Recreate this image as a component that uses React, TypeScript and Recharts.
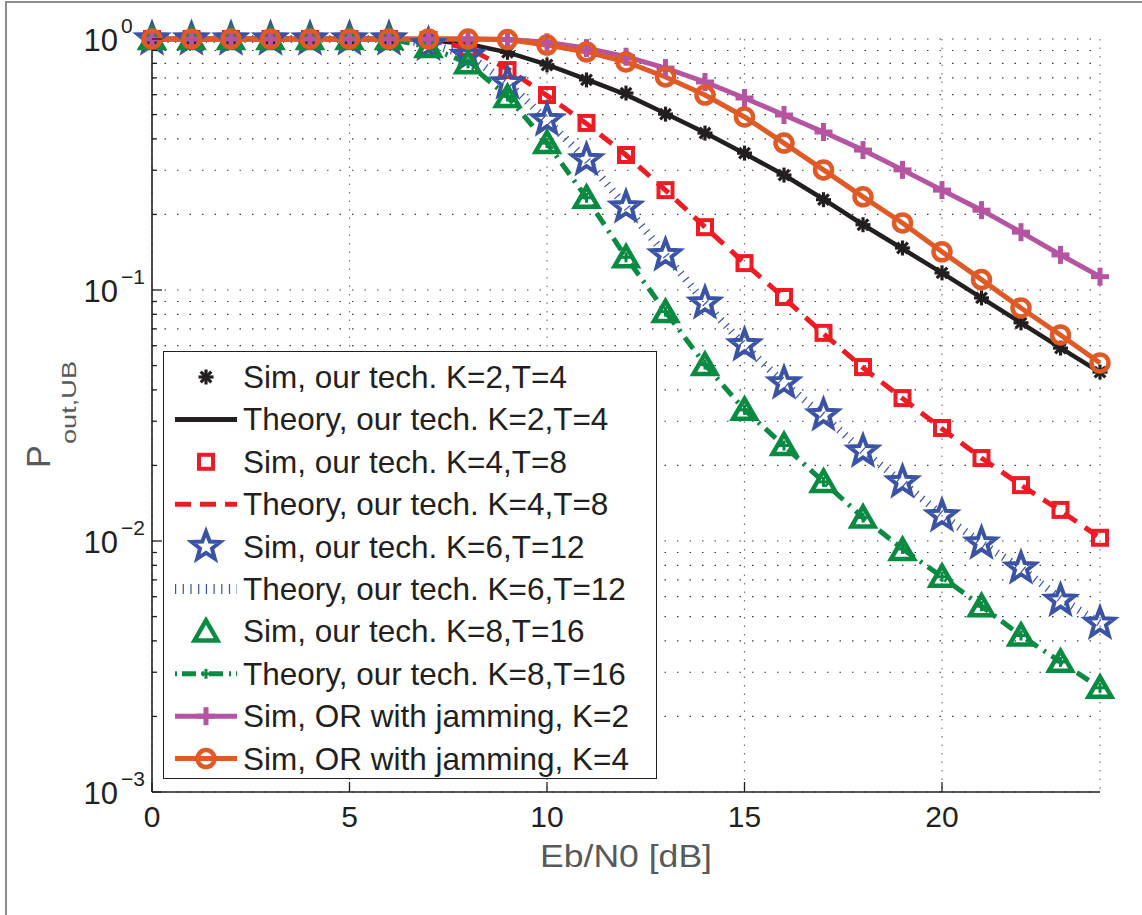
import { LineChart, Line, XAxis, YAxis, CartesianGrid, Legend } from 'recharts'

// Eb/N0 in dB, one point per integer
const ebn0 = [0, 1, 2, 3, 4, 5, 6, 7, 8, 9, 10, 11, 12, 13, 14, 15, 16, 17, 18, 19, 20, 21, 22, 23, 24]

const simK2 = [1, 1, 1, 1, 1, 1, 1, 0.99, 0.955, 0.885, 0.788, 0.687, 0.609, 0.502, 0.422, 0.351, 0.287, 0.229, 0.182, 0.147, 0.117, 0.093, 0.074, 0.0587, 0.0471]
const theoryK2 = [1, 1, 1, 1, 1, 1, 1, 0.99, 0.955, 0.885, 0.79, 0.69, 0.6, 0.505, 0.423, 0.35, 0.287, 0.23, 0.182, 0.146, 0.117, 0.093, 0.074, 0.0588, 0.047]
const simK4 = [1, 1, 1, 1, 1, 1, 1, 0.99, 0.92, 0.752, 0.598, 0.463, 0.345, 0.25, 0.178, 0.128, 0.0938, 0.0675, 0.0493, 0.0371, 0.0282, 0.0214, 0.0167, 0.0133, 0.0103]
const theoryK4 = [1, 1, 1, 1, 1, 1, 1, 0.99, 0.92, 0.76, 0.595, 0.46, 0.345, 0.25, 0.178, 0.128, 0.093, 0.067, 0.049, 0.037, 0.028, 0.0214, 0.0167, 0.0132, 0.0103]
const simK6 = [1, 1, 1, 1, 1, 1, 1, 0.95, 0.86, 0.668, 0.476, 0.33, 0.214, 0.138, 0.0887, 0.0604, 0.0426, 0.0318, 0.0228, 0.0172, 0.0126, 0.0098, 0.0078, 0.0058, 0.0047]
const theoryK6 = [1, 1, 1, 1, 1, 1, 1, 0.96, 0.86, 0.67, 0.475, 0.33, 0.215, 0.138, 0.089, 0.06, 0.0426, 0.0315, 0.0228, 0.0171, 0.0127, 0.0098, 0.0078, 0.0059, 0.0047]
const simK8 = [1, 1, 1, 1, 1, 1, 1, 0.93, 0.8, 0.587, 0.385, 0.233, 0.135, 0.0817, 0.0503, 0.0333, 0.0241, 0.0172, 0.0124, 0.0092, 0.0072, 0.0055, 0.0042, 0.0033, 0.0026]
const theoryK8 = [1, 1, 1, 1, 1, 1, 1, 0.93, 0.8, 0.59, 0.385, 0.233, 0.135, 0.082, 0.0505, 0.0333, 0.024, 0.0172, 0.0124, 0.0093, 0.0072, 0.0055, 0.0042, 0.0033, 0.0026]
const orJamK2 = [1, 1, 1, 1, 1, 1, 1, 1, 1, 0.995, 0.97, 0.92, 0.85, 0.766, 0.674, 0.582, 0.498, 0.426, 0.361, 0.301, 0.25, 0.208, 0.17, 0.138, 0.113]
const orJamK4 = [1, 1, 1, 1, 1, 1, 1, 1, 1, 0.995, 0.946, 0.888, 0.81, 0.706, 0.598, 0.489, 0.385, 0.301, 0.235, 0.185, 0.142, 0.11, 0.0848, 0.0662, 0.0512]

const xTicks = [0, 5, 10, 15, 20]
const yTicks = [
  0.001, 0.002, 0.003, 0.004, 0.005, 0.006, 0.007, 0.008, 0.009,
  0.01, 0.02, 0.03, 0.04, 0.05, 0.06, 0.07, 0.08, 0.09,
  0.1, 0.2, 0.3, 0.4, 0.5, 0.6, 0.7, 0.8, 0.9, 1,
]
const yMajorTicks = [0.001, 0.01, 0.1, 1]
const yExponents = ['−3', '−2', '−1', '0']

const legendNames = [
  'Sim, our tech. K=2,T=4',
  'Theory, our tech. K=2,T=4',
  'Sim, our tech. K=4,T=8',
  'Theory, our tech. K=4,T=8',
  'Sim, our tech. K=6,T=12',
  'Theory, our tech. K=6,T=12',
  'Sim, our tech. K=8,T=16',
  'Theory, our tech. K=8,T=16',
  'Sim, OR with jamming, K=2',
  'Sim, OR with jamming, K=4',
]

const rows = ebn0.map((x, i) => ({
  x,
  simK2: simK2[i],
  theoryK2: theoryK2[i],
  simK4: simK4[i],
  theoryK4: theoryK4[i],
  simK6: simK6[i],
  theoryK6: theoryK6[i],
  simK8: simK8[i],
  theoryK8: theoryK8[i],
  orJamK2: orJamK2[i],
  orJamK4: orJamK4[i],
}))

const FONT = '"Liberation Sans", Arial, Helvetica, sans-serif'
const INK = '#231f20'
const GRAYTEXT = '#58595b'
const BLACK = '#231f20'
const RED = '#ed1c24'
const BLUE = '#3a53a4'
const GREEN = '#0b8a42'
const PURPLE = '#b554a1'
const ORANGE = '#df5a26'

type MarkerKind = 'asterisk' | 'square' | 'star' | 'triangle' | 'plus' | 'circle' | 'smallplus'

function starPoints(cx: number, cy: number, R: number) {
  const r = R * 0.42
  const pts: string[] = []
  for (let i = 0; i < 10; i++) {
    const a = -Math.PI / 2 + (i * Math.PI) / 5
    const rad = i % 2 === 0 ? R : r
    pts.push(`${cx + rad * Math.cos(a)},${cy + rad * Math.sin(a)}`)
  }
  return pts.join(' ')
}

function Marker({ kind, cx, cy, color }: { kind: MarkerKind; cx: number; cy: number; color: string }) {
  switch (kind) {
    case 'asterisk': {
      const d = 7.5
      const k = d * 0.707
      return (
        <g stroke={color} strokeWidth={3.2}>
          <line x1={cx - d} y1={cy} x2={cx + d} y2={cy} />
          <line x1={cx} y1={cy - d} x2={cx} y2={cy + d} />
          <line x1={cx - k} y1={cy - k} x2={cx + k} y2={cy + k} />
          <line x1={cx - k} y1={cy + k} x2={cx + k} y2={cy - k} />
        </g>
      )
    }
    case 'square':
      return <rect x={cx - 7} y={cy - 7} width={14} height={14} fill="none" stroke={color} strokeWidth={4} />
    case 'star':
      return <polygon points={starPoints(cx, cy, 15)} fill="none" stroke={color} strokeWidth={4} strokeLinejoin="miter" />
    case 'triangle':
      return (
        <polygon
          points={`${cx},${cy - 11} ${cx - 11.5},${cy + 9} ${cx + 11.5},${cy + 9}`}
          fill="none"
          stroke={color}
          strokeWidth={4.5}
        />
      )
    case 'plus':
      return (
        <g stroke={color} strokeWidth={5}>
          <line x1={cx - 9} y1={cy} x2={cx + 9} y2={cy} />
          <line x1={cx} y1={cy - 9} x2={cx} y2={cy + 9} />
        </g>
      )
    case 'smallplus':
      return (
        <g stroke={color} strokeWidth={3}>
          <line x1={cx - 5} y1={cy} x2={cx + 5} y2={cy} />
          <line x1={cx} y1={cy - 5} x2={cx} y2={cy + 5} />
        </g>
      )
    case 'circle':
      return <circle cx={cx} cy={cy} r={8.5} fill="none" stroke={color} strokeWidth={4.5} />
  }
  return null
}

const dotOf = (kind: MarkerKind, color: string) => (p: any) => {
  if (p.cx == null || p.cy == null) return <g key={p.index} />
  return (
    <g key={p.index}>
      <Marker kind={kind} cx={p.cx} cy={p.cy} color={color} />
    </g>
  )
}

const isMajor = (v: number) => yMajorTicks.some((m) => Math.abs(m - v) < 1e-12)

const LeftTick = (props: any) => {
  const { x, y, payload } = props
  const v = payload.value
  const idx = yMajorTicks.findIndex((m) => Math.abs(m - v) < 1e-12)
  const major = idx >= 0
  return (
    <g>
      <line x1={x} x2={x + (major ? 10 : 5)} y1={y} y2={y} stroke={INK} strokeWidth={1.3} />
      {major && (
        <g fontFamily={FONT} fill={INK}>
          <text x={x - 34} y={y + 12} textAnchor="end" fontSize={31}>
            10
          </text>
          <text x={x - 31} y={y - 6} textAnchor="start" fontSize={21}>
            {yExponents[idx]}
          </text>
        </g>
      )}
    </g>
  )
}

const RightTick = (props: any) => {
  const { x, y, payload } = props
  const major = isMajor(payload.value)
  return <line x1={x} x2={x - (major ? 10 : 5)} y1={y} y2={y} stroke={INK} strokeWidth={1.3} />
}

const BottomTick = (props: any) => {
  const { x, y, payload } = props
  return (
    <g>
      <line x1={x} x2={x} y1={y} y2={y - 10} stroke={INK} strokeWidth={1.3} />
      <text x={x} y={y + 35} textAnchor="middle" fontSize={30} fontFamily={FONT} fill={INK}>
        {payload.value}
      </text>
    </g>
  )
}

const TopTick = (props: any) => {
  const { x, y } = props
  return <line x1={x} x2={x} y1={y} y2={y + 10} stroke={INK} strokeWidth={1.3} />
}

const XLabel = () => (
  <text x={626} y={867} textAnchor="middle" fontSize={31} fontFamily={FONT} fill={GRAYTEXT} textLength={172} lengthAdjust="spacingAndGlyphs">
    Eb/N0 [dB]
  </text>
)

const YLabel = () => (
  <g fontFamily={FONT} fill={GRAYTEXT} transform="translate(50,468) rotate(-90)">
    <text x={0} y={0} fontSize={34}>P</text>
    <text x={24} y={26} fontSize={20} textLength={83} lengthAdjust="spacingAndGlyphs">out,UB</text>
  </g>
)

const legendRows: { marker?: MarkerKind; color: string; width?: number; dash?: string }[] = [
  { marker: 'asterisk', color: BLACK },
  { color: BLACK, width: 5 },
  { marker: 'square', color: RED },
  { color: RED, width: 5, dash: '16 9' },
  { marker: 'star', color: BLUE },
  { color: BLUE, width: 10, dash: '1.2 6.5' },
  { marker: 'triangle', color: GREEN },
  { marker: 'smallplus', color: GREEN, width: 5, dash: '2 5 14 6' },
  { marker: 'plus', color: PURPLE, width: 5 },
  { marker: 'circle', color: ORANGE, width: 5 },
]

function LegendBox() {
  return (
    <div style={{ width: 494, height: 428, background: '#fff', border: `1.5px solid ${INK}`, boxSizing: 'border-box' }}>
      <svg width={491} height={425}>
        {legendRows.map((r, i) => {
          const base = 36 + i * 42.4
          const cy = base - 11
          return (
            <g key={i}>
              {r.width && (
                <line x1={11} x2={73} y1={cy} y2={cy} stroke={r.color} strokeWidth={r.width} strokeDasharray={r.dash} />
              )}
              {r.marker && <Marker kind={r.marker} cx={42} cy={cy} color={r.color} />}
              <text x={79} y={base} fontSize={31.5} fontFamily={FONT} fill={INK}>
                {legendNames[i]}
              </text>
            </g>
          )
        })}
      </svg>
    </div>
  )
}

export default function App() {
  return (
    <div style={{ position: 'absolute', left: 0, top: 0, width: 1142, height: 915, background: '#fff' }}>
      <div
        style={{
          position: 'absolute',
          left: 5,
          top: 1,
          width: 1137,
          height: 914,
          borderLeft: '2px solid #8c8c8c',
          borderTop: '2px solid #8c8c8c',
          boxSizing: 'border-box',
        }}
      />
      <LineChart width={1142} height={915} data={rows} margin={{ top: 39, right: 42, left: 0, bottom: 0 }}>
        <CartesianGrid horizontal vertical={false} stroke="#3a3a3a" strokeDasharray="1.5 11" strokeWidth={1.2} />
        <CartesianGrid horizontal={false} vertical stroke="#777" strokeDasharray="1.5 7" strokeWidth={1.2} />
        <XAxis
          dataKey="x"
          type="number"
          domain={[0, 24]}
          ticks={xTicks}
          interval={0}
          height={123}
          tickSize={0}
          tickMargin={0}
          tick={<BottomTick />}
          axisLine={{ stroke: INK, strokeWidth: 1.6 }}
          label={{ content: XLabel }}
        />
        <XAxis
          xAxisId="top"
          orientation="top"
          type="number"
          domain={[0, 24]}
          ticks={xTicks}
          interval={0}
          height={0}
          tickSize={0}
          tickMargin={0}
          tick={<TopTick />}
          axisLine={{ stroke: INK, strokeWidth: 1.6 }}
        />
        <YAxis
          scale="log"
          type="number"
          domain={[0.001, 1]}
          ticks={yTicks}
          interval={0}
          width={152}
          tickSize={0}
          tickMargin={0}
          tick={<LeftTick />}
          axisLine={{ stroke: INK, strokeWidth: 1.6 }}
          label={{ content: YLabel }}
        />
        <YAxis
          yAxisId="right"
          orientation="right"
          scale="log"
          type="number"
          domain={[0.001, 1]}
          ticks={yTicks}
          interval={0}
          width={0}
          tickSize={0}
          tickMargin={0}
          tick={<RightTick />}
          axisLine={{ stroke: INK, strokeWidth: 1.6 }}
        />
        <Legend
          layout="vertical"
          align="center"
          verticalAlign="middle"
          content={() => <LegendBox />}
          wrapperStyle={{ position: 'absolute', left: 163, top: 351, width: 494, height: 428 }}
        />
        <Line dataKey="simK2" stroke="none" isAnimationActive={false} dot={dotOf('asterisk', BLACK)} activeDot={false} />
        <Line dataKey="theoryK2" stroke={BLACK} strokeWidth={4.5} isAnimationActive={false} dot={false} activeDot={false} />
        <Line dataKey="simK4" stroke="none" isAnimationActive={false} dot={dotOf('square', RED)} activeDot={false} />
        <Line dataKey="theoryK4" stroke={RED} strokeWidth={5} strokeDasharray="15 10" isAnimationActive={false} dot={false} activeDot={false} />
        <Line dataKey="simK6" stroke="none" isAnimationActive={false} dot={dotOf('star', BLUE)} activeDot={false} />
        <Line dataKey="theoryK6" stroke={BLUE} strokeWidth={8} strokeDasharray="1.2 6.5" isAnimationActive={false} dot={false} activeDot={false} />
        <Line dataKey="simK8" stroke="none" isAnimationActive={false} dot={dotOf('triangle', GREEN)} activeDot={false} />
        <Line dataKey="theoryK8" stroke={GREEN} strokeWidth={5} strokeDasharray="14 7 2.5 7" isAnimationActive={false} dot={dotOf('smallplus', GREEN)} activeDot={false} />
        <Line dataKey="orJamK2" stroke={PURPLE} strokeWidth={5} isAnimationActive={false} dot={dotOf('plus', PURPLE)} activeDot={false} />
        <Line dataKey="orJamK4" stroke={ORANGE} strokeWidth={5} isAnimationActive={false} dot={dotOf('circle', ORANGE)} activeDot={false} />
      </LineChart>
    </div>
  )
}
